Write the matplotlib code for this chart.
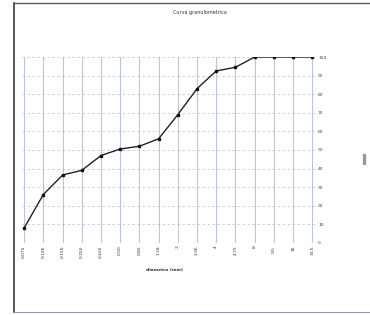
import numpy as np
import matplotlib.pyplot as plt
from matplotlib.patches import Rectangle

# sieve sizes (mm) and cumulative passing (%)
diametri = ["0.075", "0.106", "0.150", "0.250", "0.425", "0.50", "0.85", "1.18",
            "2", "2.36", "4", "4.75", "8", "9.5", "16", "31.5"]
passante = [8, 26, 36.5, 39, 47, 50.5, 52, 56, 69, 83, 92.5, 94.5, 100, 100, 100, 100]
yticks = [0, 10, 20, 30, 40, 50, 60, 70, 80, 90, 100]

x = np.arange(len(diametri))

fig = plt.figure(figsize=(3.7, 3.15), dpi=100)
ax = fig.add_axes([0.06, 0.229, 0.792, 0.590])

ax.plot(x, passante, color="#222222", lw=1.0, marker="s", ms=1.8,
        mfc="#111111", mec="#111111")

ax.set_xlim(-0.1, 15.15)
ax.set_ylim(0, 100)
ax.set_xticks(x)
ax.set_xticklabels(diametri, rotation=90, fontsize=3.2, color="#333333")
ax.set_yticks(yticks)
ax.set_yticklabels([str(v) for v in yticks], fontsize=3.2, color="#444444")
ax.yaxis.tick_right()
ax.tick_params(length=0, pad=2)

ax.grid(axis="x", color="#9fb4d0", lw=0.8, alpha=0.75)
ax.grid(axis="y", color="#a8b8d4", lw=0.6, ls=(0, (3, 3)), alpha=0.75)
for s in ax.spines.values():
    s.set_visible(False)

fig.text(0.54, 0.955, "Curva granulometrica", fontsize=3.5, ha="center", color="#333333")
fig.text(0.445, 0.14, "diametro (mm)", fontsize=3.2, ha="center", color="#333333",
         fontweight="bold")

# chart frame of the scanned page
fig.add_artist(plt.Line2D([0.038, 0.038], [0.008, 0.99], color="#333a4a", lw=1.2))
fig.add_artist(plt.Line2D([0.038, 1.0], [0.99, 0.99], color="#555a66", lw=1.0))
fig.add_artist(plt.Line2D([0.038, 1.0], [0.008, 0.008], color="#9098a8", lw=0.7))
fig.add_artist(Rectangle((0.98, 0.478), 0.006, 0.032, color="#999999"))

fig.savefig("out.png", dpi=100)
